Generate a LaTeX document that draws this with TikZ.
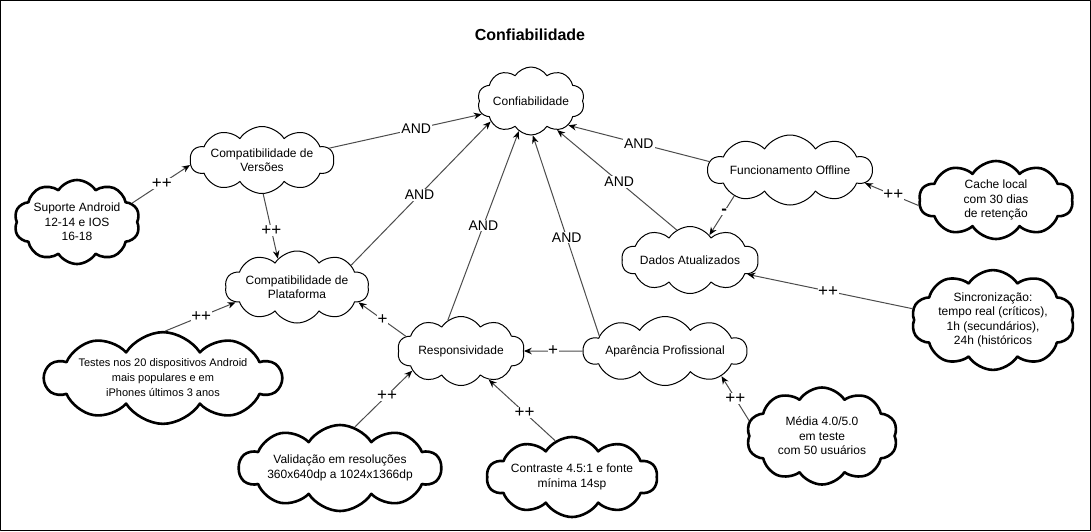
\documentclass[tikz,border=0pt]{standalone}
\usepackage{fontspec}
\setmainfont{Liberation Sans}
\usetikzlibrary{shapes.symbols,arrows.meta}
\begin{document}
\begin{tikzpicture}[x=1pt, y=-1pt, line join=round, line cap=round,
		nuvem/.style={cloud, cloud puffs=10, cloud puff arc=115, cloud ignores aspect, draw, line width=1pt, fill=white, align=center, inner sep=0pt, font=\fontsize{12}{14.5}\selectfont},
		folha/.style={nuvem, line width=2.6pt},
		liga/.style={-{Stealth[length=8pt,width=6.5pt,color=black]}, draw=black!70, line width=1pt},
		rot/.style={fill=white, inner sep=1pt, font=\fontsize{14}{16}\selectfont},
		mais/.style={rot, inner sep=0.5pt, font=\fontsize{17}{18}\selectfont}]
		\useasboundingbox (0,0) rectangle (1091,531);
		\draw[line width=1pt] (0.5,0.5) rectangle (1090.5,530.5);
		\node (titulo) at (530,35) {\fontsize{16}{18}\selectfont\bfseries Confiabilidade};
		% nuvens centrais
		\node[nuvem, minimum width=107, minimum height=68] (conf) at (531,101) {Confiabilidade};
		\node[nuvem, minimum width=126, minimum height=67] (vers) at (262,160) {Compatibilidade de\\Versões};
		\node[nuvem, minimum width=120, minimum height=72] (plat) at (297,287) {Compatibilidade de\\Plataforma};
		\node[nuvem, minimum width=127, minimum height=69] (resp) at (461,351) {Responsividade};
		\node[nuvem, minimum width=152, minimum height=69] (apar) at (665,351) {Aparência Profissional};
		\node[nuvem, minimum width=163, minimum height=70] (func) at (790,170) {Funcionamento Offline};
		\node[nuvem, minimum width=128, minimum height=67] (dados) at (690,260) {Dados Atualizados};
		% nuvens de suporte
		\node[folha, minimum width=102, minimum height=84] (sup) at (77,222) {Suporte Android\\12-14 e IOS\\16-18};
		\node[folha, minimum width=204, minimum height=82, font=\fontsize{11}{15}\selectfont] (testes) at (163,378) {Testes nos 20 dispositivos Android\\mais populares e em\\iPhones últimos 3 anos};
		\node[folha, minimum width=197, minimum height=86] (valid) at (340,468) {Validação em resoluções\\360x640dp a 1024x1366dp};
		\node[folha, minimum width=147, minimum height=80] (contr) at (572,477) {Contraste 4.5:1 e fonte\\mínima 14sp};
		\node[folha, minimum width=151, minimum height=97] (media) at (822,436) {Média 4.0/5.0\\em teste\\com 50 usuários};
		\node[folha, minimum width=154, minimum height=78] (cache) at (996,200) {Cache local\\com 30 dias\\de retenção};
		\node[folha, minimum width=163, minimum height=86] (sinc) at (993,320) {Sincronização:\\tempo real (críticos),\\1h (secundários),\\24h (históricos};
		% ligacoes AND
		\draw[liga] (vers.10) -- node[rot,pos=.57]{AND} (conf.195);
		\draw[liga] (plat.22) -- node[rot,pos=.49]{AND} (conf.207);
		\draw[liga] (resp.113) -- node[rot,pos=.5]{AND} (conf.248);
		\draw[liga] (apar.167) -- node[rot,pos=.49]{AND} (conf.273);
		\draw[liga] (dados.114) -- node[rot,pos=.48]{AND} (conf.312);
		\draw[liga] (func.174) -- node[rot,pos=.5]{AND} (conf.327);
		% contribuicoes
		\draw[liga] (sup.19) -- node[mais,pos=.51]{++} (vers.184);
		\draw[liga] (vers.272) -- node[mais,pos=.56]{++} (plat.124);
		\draw[liga] (testes.87) -- node[mais,pos=.51]{++} (plat.194);
		\draw[liga] (resp.165) -- node[mais,pos=.49]{+} (plat.346);
		\draw[liga] (valid.70) -- node[mais,pos=.56]{++} (resp.202);
		\draw[liga] (contr.115) -- node[mais,pos=.46]{++} (resp.314);
		\draw[liga] (apar.180) -- node[mais,pos=.5]{+} (resp.0);
		\draw[liga] (media.168) -- node[mais,pos=.5]{++} (apar.336);
		\draw[liga] (func.205) -- node[mais,pos=.4]{\bfseries -} (dados.52);
		\draw[liga] (cache.184) -- node[mais,pos=.47]{++} (func.350);
		\draw[liga] (sinc.172) -- node[mais,pos=.51]{++} (dados.346);
	\end{tikzpicture}
\end{document}
